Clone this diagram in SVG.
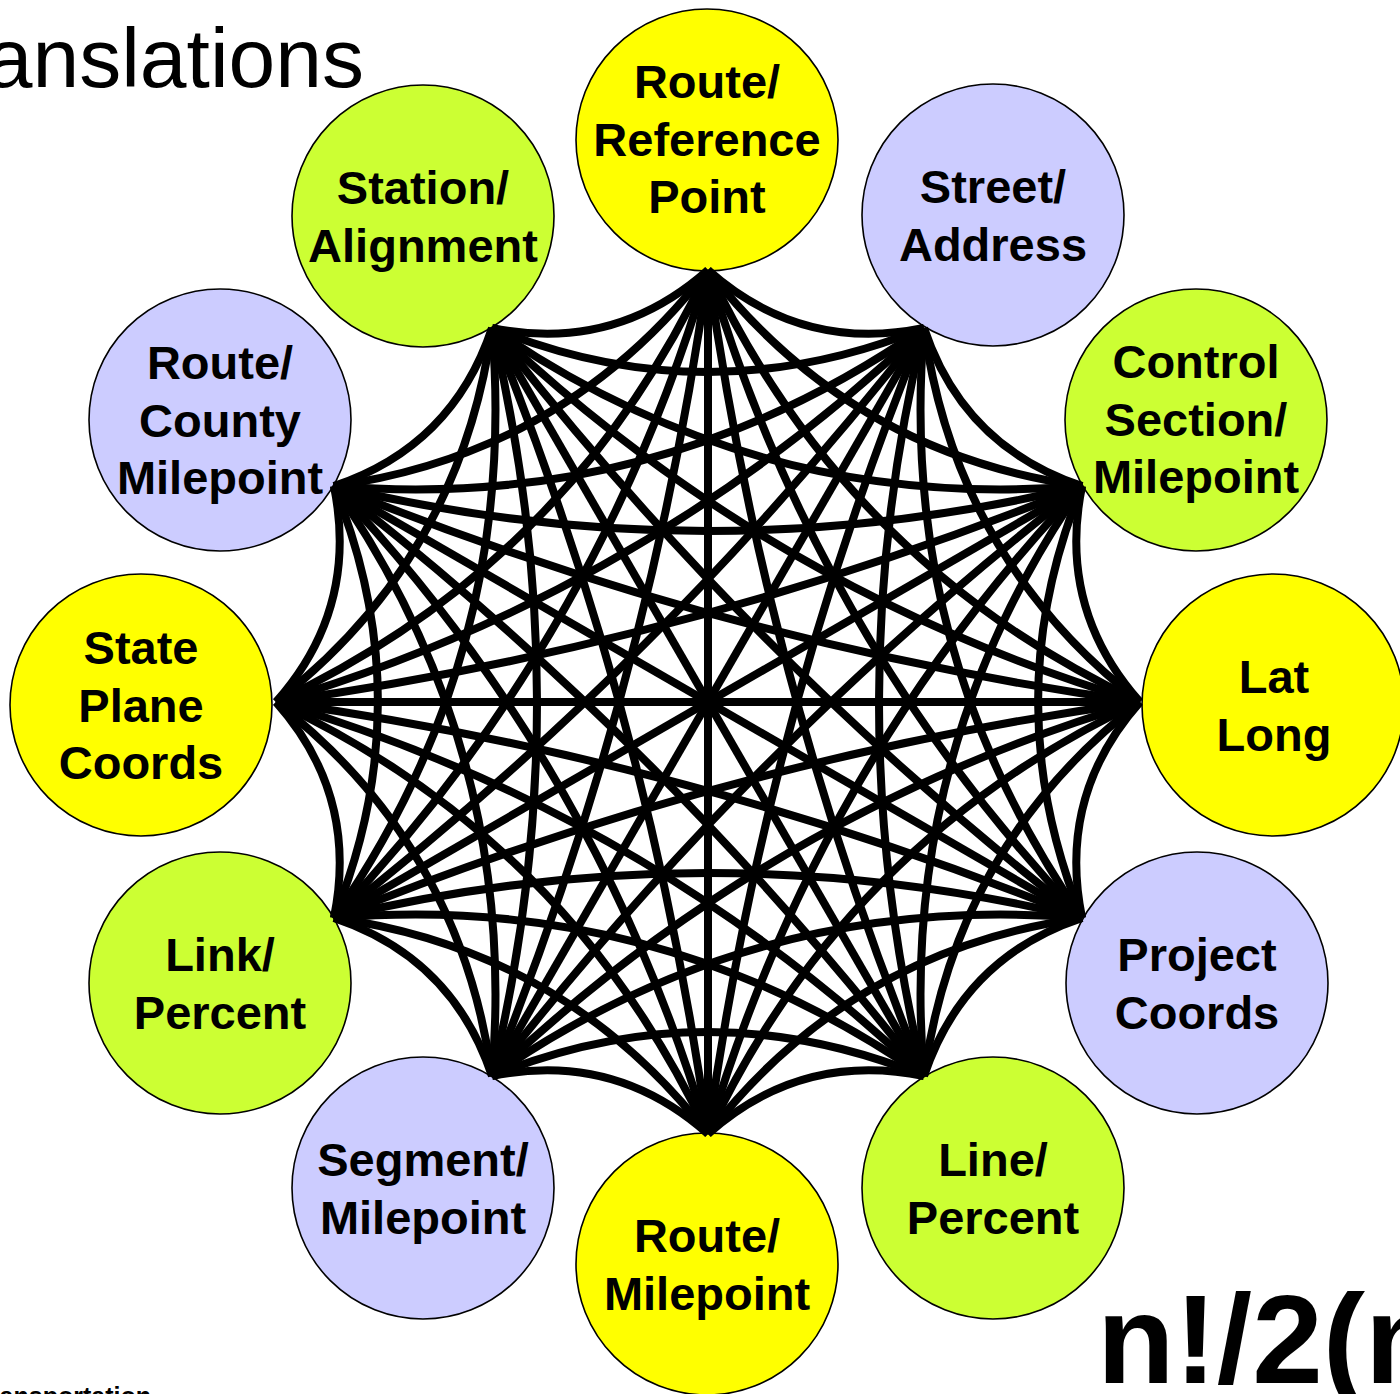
<svg xmlns="http://www.w3.org/2000/svg" width="1400" height="1394" viewBox="0 0 1400 1394">
<style>
.n{stroke:#000;stroke-width:1.6}
.y{fill:#FFFF00}.g{fill:#CCFF33}.p{fill:#CCCCFF}
.t{font-family:"Liberation Sans",Arial,sans-serif;font-weight:bold;font-size:47px;text-anchor:middle;fill:#000}
#edges path{fill:none;stroke:#000;stroke-width:8}
</style>
<rect width="1400" height="1394" fill="#fff"/>
<text x="364" y="87" font-family="Liberation Sans,Arial,sans-serif" font-size="84" text-anchor="end">anslations</text>
<text x="151" y="1405" font-family="Liberation Sans,Arial,sans-serif" font-size="25" font-weight="bold" text-anchor="end">ansportation</text>
<text x="1097" y="1383" font-family="Liberation Sans,Arial,sans-serif" font-size="127" font-weight="bold">n!/2(n</text>
<g id="node-route-reference-point"><circle class="n y" cx="707" cy="140" r="131"/><text class="t"><tspan x="707" y="98">Route/</tspan><tspan x="707" y="155.5">Reference</tspan><tspan x="707" y="213">Point</tspan></text></g>
<g id="node-street-address"><circle class="n p" cx="993" cy="215" r="131"/><text class="t"><tspan x="993" y="203">Street/</tspan><tspan x="993" y="260.5">Address</tspan></text></g>
<g id="node-control-section-milepoint"><circle class="n g" cx="1196" cy="420" r="131"/><text class="t"><tspan x="1196" y="378">Control</tspan><tspan x="1196" y="435.5">Section/</tspan><tspan x="1196" y="493">Milepoint</tspan></text></g>
<g id="node-lat-long"><circle class="n y" cx="1273" cy="705" r="131"/><text class="t"><tspan x="1274" y="693">Lat</tspan><tspan x="1274" y="750.5">Long</tspan></text></g>
<g id="node-project-coords"><circle class="n p" cx="1197" cy="983" r="131"/><text class="t"><tspan x="1197" y="971">Project</tspan><tspan x="1197" y="1028.5">Coords</tspan></text></g>
<g id="node-line-percent"><circle class="n g" cx="993" cy="1188" r="131"/><text class="t"><tspan x="993" y="1176">Line/</tspan><tspan x="993" y="1233.5">Percent</tspan></text></g>
<g id="node-route-milepoint"><circle class="n y" cx="707" cy="1264" r="131"/><text class="t"><tspan x="707" y="1252">Route/</tspan><tspan x="707" y="1309.5">Milepoint</tspan></text></g>
<g id="node-segment-milepoint"><circle class="n p" cx="423" cy="1188" r="131"/><text class="t"><tspan x="423" y="1176">Segment/</tspan><tspan x="423" y="1233.5">Milepoint</tspan></text></g>
<g id="node-link-percent"><circle class="n g" cx="220" cy="983" r="131"/><text class="t"><tspan x="220" y="971">Link/</tspan><tspan x="220" y="1028.5">Percent</tspan></text></g>
<g id="node-state-plane-coords"><circle class="n y" cx="141" cy="705" r="131"/><text class="t"><tspan x="141" y="664">State</tspan><tspan x="141" y="721.5">Plane</tspan><tspan x="141" y="779">Coords</tspan></text></g>
<g id="node-route-county-milepoint"><circle class="n p" cx="220" cy="420" r="131"/><text class="t"><tspan x="220" y="379">Route/</tspan><tspan x="220" y="436.5">County</tspan><tspan x="220" y="494">Milepoint</tspan></text></g>
<g id="node-station-alignment"><circle class="n g" cx="423" cy="216" r="131"/><text class="t"><tspan x="423" y="204">Station/</tspan><tspan x="423" y="261.5">Alignment</tspan></text></g>
<g id="edges">
<path d="M708,270 Q801.5,353 924,327.9"/>
<path d="M924,327.9 Q963.5,446.5 1082.1,486"/>
<path d="M1082.1,486 Q1057,608.5 1140,702"/>
<path d="M1140,702 Q1057,795.5 1082.1,918"/>
<path d="M1082.1,918 Q963.5,957.5 924,1076.1"/>
<path d="M924,1076.1 Q801.5,1051 708,1134"/>
<path d="M708,1134 Q614.5,1051 492,1076.1"/>
<path d="M492,1076.1 Q452.5,957.5 333.9,918"/>
<path d="M333.9,918 Q359,795.5 276,702"/>
<path d="M276,702 Q359,608.5 333.9,486"/>
<path d="M333.9,486 Q452.5,446.5 492,327.9"/>
<path d="M492,327.9 Q614.5,353 708,270"/>
<path d="M708,270 Q851.1,454.2 1082.1,486"/>
<path d="M924,327.9 Q955.8,559 1140,702"/>
<path d="M1082.1,486 Q994.1,702 1082.1,918"/>
<path d="M1140,702 Q955.8,845 924,1076.1"/>
<path d="M1082.1,918 Q851.1,949.8 708,1134"/>
<path d="M924,1076.1 Q708,988.1 492,1076.1"/>
<path d="M708,1134 Q565,949.8 333.9,918"/>
<path d="M492,1076.1 Q460.2,845 276,702"/>
<path d="M333.9,918 Q421.9,702 333.9,486"/>
<path d="M276,702 Q460.2,559 492,327.9"/>
<path d="M333.9,486 Q565,454.2 708,270"/>
<path d="M492,327.9 Q708,415.9 924,327.9"/>
<path d="M708,270 Q846.2,563.8 1140,702"/>
<path d="M924,327.9 Q896.8,651.4 1082.1,918"/>
<path d="M1082.1,486 Q896.8,752.6 924,1076.1"/>
<path d="M1140,702 Q846.2,840.2 708,1134"/>
<path d="M1082.1,918 Q758.6,890.8 492,1076.1"/>
<path d="M924,1076.1 Q657.4,890.8 333.9,918"/>
<path d="M708,1134 Q569.8,840.2 276,702"/>
<path d="M492,1076.1 Q519.2,752.6 333.9,486"/>
<path d="M333.9,918 Q519.2,651.4 492,327.9"/>
<path d="M276,702 Q569.8,563.8 708,270"/>
<path d="M333.9,486 Q657.4,513.2 924,327.9"/>
<path d="M492,327.9 Q758.6,513.2 1082.1,486"/>
<path d="M708,270 Q817.1,639 1082.1,918"/>
<path d="M924,327.9 Q834,702 924,1076.1"/>
<path d="M1082.1,486 Q817.1,765 708,1134"/>
<path d="M1140,702 Q771,811.1 492,1076.1"/>
<path d="M1082.1,918 Q708,828 333.9,918"/>
<path d="M924,1076.1 Q645,811.1 276,702"/>
<path d="M708,1134 Q598.9,765 333.9,486"/>
<path d="M492,1076.1 Q582,702 492,327.9"/>
<path d="M333.9,918 Q598.9,639 708,270"/>
<path d="M276,702 Q645,592.9 924,327.9"/>
<path d="M333.9,486 Q708,576 1082.1,486"/>
<path d="M492,327.9 Q771,592.9 1140,702"/>
<path d="M708,270 Q765.8,686.5 924,1076.1"/>
<path d="M924,327.9 Q765.8,717.5 708,1134"/>
<path d="M1082.1,486 Q750.3,744.3 492,1076.1"/>
<path d="M1140,702 Q723.5,759.8 333.9,918"/>
<path d="M1082.1,918 Q692.5,759.8 276,702"/>
<path d="M924,1076.1 Q665.7,744.3 333.9,486"/>
<path d="M708,1134 Q650.2,717.5 492,327.9"/>
<path d="M492,1076.1 Q650.2,686.5 708,270"/>
<path d="M333.9,918 Q665.7,659.7 924,327.9"/>
<path d="M276,702 Q692.5,644.2 1082.1,486"/>
<path d="M333.9,486 Q723.5,644.2 1140,702"/>
<path d="M492,327.9 Q750.3,659.7 1082.1,918"/>
<path d="M708,270 L708,1134"/>
<path d="M924,327.9 L492,1076.1"/>
<path d="M1082.1,486 L333.9,918"/>
<path d="M1140,702 L276,702"/>
<path d="M1082.1,918 L333.9,486"/>
<path d="M924,1076.1 L492,327.9"/>
</g>
</svg>
